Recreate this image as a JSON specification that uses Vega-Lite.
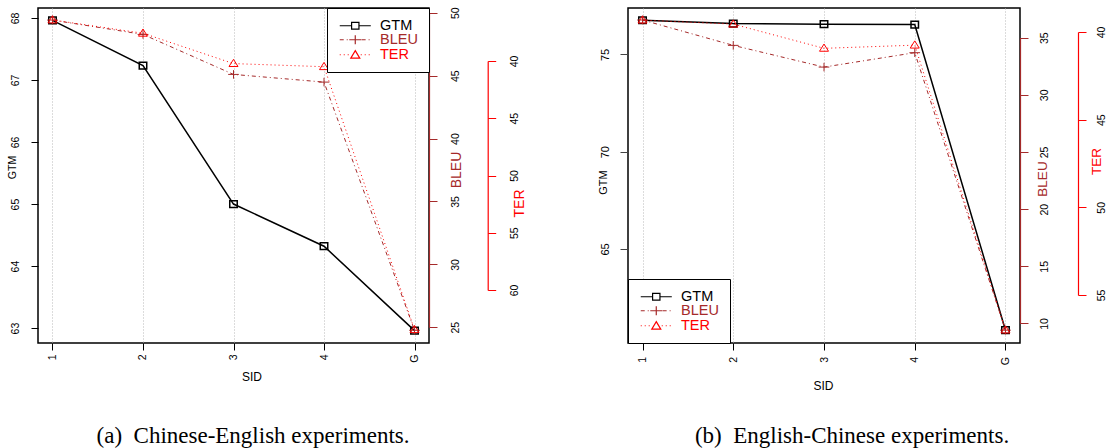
{
  "$schema": "https://vega.github.io/schema/vega-lite/v6.json",
  "padding": {"left": 6, "top": 6, "right": 0, "bottom": 0},
  "background": "white",
  "spacing": 69,
  "config": {
    "view": {"stroke": "black", "strokeWidth": 1.5},
    "font": "Liberation Sans",
    "axis": {
      "labelFont": "Liberation Sans",
      "titleFont": "Liberation Sans",
      "titleFontWeight": "normal",
      "labelColor": "black",
      "titleColor": "black",
      "labelFlush": false,
      "labelOverlap": false,
      "tickWidth": 1,
      "domainWidth": 1.2,
      "grid": false
    },
    "legend": {
      "orient": "top-right", "offset": 0, "padding": 10.5, "strokeColor": "black", "fillColor": "white",
      "symbolSize": 100, "symbolStrokeWidth": 1.2, "symbolOpacity": 1, "labelFontSize": 14.5, "labelFont": "Liberation Sans",
      "labelOffset": 28, "rowPadding": -6.5, "cornerRadius": 0
    }
  },
  "datasets": {
    "zhen": [
      {"SID": "1", "GTM": 67.96, "BLEU": 49.42, "TER": 36.42},
      {"SID": "2", "GTM": 67.23, "BLEU": 48.28, "TER": 37.58},
      {"SID": "3", "GTM": 65.0, "BLEU": 45.1, "TER": 40.23},
      {"SID": "4", "GTM": 64.32, "BLEU": 44.49, "TER": 40.5},
      {"SID": "G", "GTM": 62.96, "BLEU": 24.76, "TER": 63.46}
    ],
    "enzh": [
      {"SID": "1", "GTM": 76.76, "BLEU": 36.55, "TER": 39.32},
      {"SID": "2", "GTM": 76.59, "BLEU": 34.33, "TER": 39.55},
      {"SID": "3", "GTM": 76.56, "BLEU": 32.43, "TER": 40.93},
      {"SID": "4", "GTM": 76.54, "BLEU": 33.69, "TER": 40.75},
      {"SID": "G", "GTM": 60.82, "BLEU": 9.41, "TER": 57.0}
    ],
    "series": [
      {"series": "GTM"},
      {"series": "BLEU"},
      {"series": "TER"}
    ]
  },
  "resolve": {
    "scale": {"color": "independent", "shape": "independent"},
    "legend": {"color": "independent", "shape": "independent"}
  },
  "hconcat": [
    {
      "width": 391,
      "height": 335,
      "data": {"name": "zhen"},
      "title": {"text": "(a)\u00a0 Chinese-English experiments.", "orient": "bottom", "anchor": "middle", "frame": "group", "font": "Liberation Serif", "fontSize": 23, "fontWeight": "normal", "color": "black", "offset": 43, "dx": 19.5},
      "encoding": {
        "x": {
          "field": "SID", "type": "nominal",
          "scale": {"type": "point", "domain": ["1", "2", "3", "4", "G"], "padding": 0.16},
          "axis": {"orient": "bottom", "title": "SID", "titleFontSize": 12, "titleAngle": 0, "titleX": 213.5, "titleY": 33, "titleBaseline": "middle", "titleAlign": "center", "labelAngle": 270, "labelAlign": "right", "labelBaseline": "middle", "labelPadding": 4, "labelFontSize": 10.5, "tickSize": 7, "tickColor": "black", "domain": false, "grid": true, "gridDash": [1, 2], "gridColor": "#b8b8b8", "gridWidth": 1}
        }
      },
      "layer": [
        {
          "encoding": {
            "y": {"field": "GTM", "type": "quantitative", "scale": {"domain": [62.76, 68.16], "zero": false, "nice": false},
              "axis": {"orient": "left", "values": [63, 64, 65, 66, 67, 68], "title": "GTM", "titleFontSize": 10.5, "titleAngle": 270, "titleX": -25.5, "titleY": 159, "titleBaseline": "middle", "titleAlign": "center", "labelAngle": 270, "labelAlign": "center", "labelBaseline": "alphabetic", "labelPadding": 12.7, "labelFontSize": 10.5, "tickSize": 7, "tickColor": "black", "domain": false}}
          },
          "layer": [
            {"mark": {"type": "line", "color": "black", "strokeWidth": 1.5}},
            {"mark": {"type": "point", "shape": "M-1,-0.9H1V0.9H-1Z", "size": 56, "filled": false, "color": "black", "strokeWidth": 1.5, "opacity": 1}}
          ]
        },
        {
          "encoding": {
            "y": {"field": "BLEU", "type": "quantitative", "scale": {"domain": [23.75, 50.38], "zero": false, "nice": false},
              "axis": {"orient": "right", "values": [25, 30, 35, 40, 45, 50], "title": "BLEU", "titleFontSize": 14, "titleColor": "#A52A2A", "titleAngle": 270, "titleX": 27.8, "titleY": 161.5, "titleBaseline": "middle", "titleAlign": "center", "labelAngle": 270, "labelAlign": "center", "labelBaseline": "top", "labelPadding": 13.3, "labelFontSize": 10.5, "tickSize": 8, "tickColor": "#A52A2A", "domainColor": "#A52A2A", "domainDash": [0, 16, 314.3, 1000]}}
          },
          "layer": [
            {"mark": {"type": "line", "color": "#A52A2A", "strokeWidth": 1, "strokeDash": [4, 3, 1, 3]}},
            {"mark": {"type": "point", "shape": "M-1,0H1M0,-0.8V0.8", "size": 114, "filled": false, "color": "#A52A2A", "strokeWidth": 1, "opacity": 1}}
          ]
        },
        {
          "encoding": {
            "y": {"field": "TER", "type": "quantitative", "scale": {"domain": [35.375, 64.625], "reverse": true, "zero": false, "nice": false},
              "axis": {"orient": "right", "offset": 58.7, "values": [40, 45, 50, 55, 60], "title": "TER", "titleFontSize": 14, "titleColor": "#FF0000", "titleAngle": 270, "titleX": 31.3, "titleY": 195, "titleBaseline": "middle", "titleAlign": "center", "labelAngle": 270, "labelAlign": "center", "labelBaseline": "top", "labelPadding": 13.3, "labelFontSize": 10.5, "tickSize": 8, "tickColor": "#FF0000", "domainColor": "#FF0000", "domainDash": [0, 53, 229, 1000]}}
          },
          "layer": [
            {"mark": {"type": "line", "color": "#FF0000", "strokeWidth": 1, "strokeDash": [1, 3]}},
            {"mark": {"type": "point", "shape": "M0,-0.95L1,0.65L-1,0.65Z", "size": 81, "filled": false, "color": "#FF0000", "strokeWidth": 1, "opacity": 1}}
          ]
        },
        {
          "data": {"name": "series"},
          "mark": {"type": "point", "filled": false, "opacity": 0},
          "encoding": {
            "shape": {"field": "series", "type": "nominal",
              "scale": {"domain": ["GTM", "BLEU", "TER"], "range": ["M-1,0H1.37M2.84,0H5.21M1.37,-0.675H2.84V0.675H1.37Z", "M-1,0H-0.205M0.395,0H0.59M1.19,0H1.985M2.585,0H2.78M3.38,0H4.175M4.775,0H4.97M0.905,0H3.305M2.105,-0.9V0.9", "M-1,0H-0.805M-0.205,0H-0.01M0.59,0H0.785M3.2,0H3.395M3.995,0H4.19M4.79,0H4.985M2.105,-0.825L3.005,0.675L1.205,0.675Z"]},
              "legend": {"orient": "top-right", "title": null, "labelColor": {"expr": "datum.label === 'GTM' ? 'black' : datum.label === 'BLEU' ? '#A52A2A' : '#FF0000'"}}},
            "color": {"field": "series", "type": "nominal",
              "scale": {"domain": ["GTM", "BLEU", "TER"], "range": ["black", "#A52A2A", "#FF0000"]},
              "legend": {"orient": "top-right", "title": null, "labelColor": {"expr": "datum.label === 'GTM' ? 'black' : datum.label === 'BLEU' ? '#A52A2A' : '#FF0000'"}}}
          }
        }
      ],
      "resolve": {"scale": {"y": "independent"}}
    },
    {
      "width": 392,
      "height": 335,
      "data": {"name": "enzh"},
      "title": {"text": "(b)\u00a0 English-Chinese experiments.", "orient": "bottom", "anchor": "middle", "frame": "group", "font": "Liberation Serif", "fontSize": 23, "fontWeight": "normal", "color": "black", "offset": 34, "dx": 28},
      "encoding": {
        "x": {
          "field": "SID", "type": "nominal",
          "scale": {"type": "point", "domain": ["1", "2", "3", "4", "G"], "padding": 0.16},
          "axis": {"orient": "bottom", "title": "SID", "titleFontSize": 12, "titleAngle": 0, "titleX": 195, "titleY": 42, "titleBaseline": "middle", "titleAlign": "center", "labelAngle": 270, "labelAlign": "right", "labelBaseline": "middle", "labelPadding": 6.5, "labelFontSize": 10.5, "tickSize": 7, "tickColor": "black", "domain": false, "grid": true, "gridDash": [1, 2], "gridColor": "#b8b8b8", "gridWidth": 1}
        }
      },
      "layer": [
        {
          "encoding": {
            "y": {"field": "GTM", "type": "quantitative", "scale": {"domain": [60.16, 77.39], "zero": false, "nice": false},
              "axis": {"orient": "left", "values": [65, 70, 75], "title": "GTM", "titleFontSize": 11, "titleAngle": 270, "titleX": -25, "titleY": 174, "titleBaseline": "middle", "titleAlign": "center", "labelAngle": 270, "labelAlign": "center", "labelBaseline": "alphabetic", "labelPadding": 12, "labelFontSize": 11, "tickSize": 8, "tickColor": "#444444", "domain": false}}
          },
          "layer": [
            {"mark": {"type": "line", "color": "black", "strokeWidth": 1.5}},
            {"mark": {"type": "point", "shape": "M-1,-0.9H1V0.9H-1Z", "size": 56, "filled": false, "color": "black", "strokeWidth": 1.5, "opacity": 1}}
          ]
        },
        {
          "encoding": {
            "y": {"field": "BLEU", "type": "quantitative", "scale": {"domain": [8.29, 37.6], "zero": false, "nice": false},
              "axis": {"orient": "right", "values": [10, 15, 20, 25, 30, 35], "title": "BLEU", "titleFontSize": 13.5, "titleColor": "#A52A2A", "titleAngle": 270, "titleX": 22.5, "titleY": 170.5, "titleBaseline": "middle", "titleAlign": "center", "labelAngle": 270, "labelAlign": "center", "labelBaseline": "top", "labelPadding": 11, "labelFontSize": 10.5, "tickSize": 8, "tickColor": "#A52A2A", "domainColor": "#A52A2A", "domainDash": [0, 19.7, 285.6, 1000]}}
          },
          "layer": [
            {"mark": {"type": "line", "color": "#A52A2A", "strokeWidth": 1, "strokeDash": [4, 3, 1, 3]}},
            {"mark": {"type": "point", "shape": "M-1,0H1M0,-0.8V0.8", "size": 114, "filled": false, "color": "#A52A2A", "strokeWidth": 1, "opacity": 1}}
          ]
        },
        {
          "encoding": {
            "y": {"field": "TER", "type": "quantitative", "scale": {"domain": [38.63, 57.74], "reverse": true, "zero": false, "nice": false},
              "axis": {"orient": "right", "offset": 58, "values": [40, 45, 50, 55], "title": "TER", "titleFontSize": 13.5, "titleColor": "#FF0000", "titleAngle": 270, "titleX": 18, "titleY": 153, "titleBaseline": "middle", "titleAlign": "center", "labelAngle": 270, "labelAlign": "center", "labelBaseline": "top", "labelPadding": 10, "labelFontSize": 10.5, "tickSize": 8, "tickColor": "#FF0000", "domainColor": "#FF0000", "domainDash": [0, 24, 263, 1000]}}
          },
          "layer": [
            {"mark": {"type": "line", "color": "#FF0000", "strokeWidth": 1, "strokeDash": [1, 3]}},
            {"mark": {"type": "point", "shape": "M0,-0.95L1,0.65L-1,0.65Z", "size": 81, "filled": false, "color": "#FF0000", "strokeWidth": 1, "opacity": 1}}
          ]
        },
        {
          "data": {"name": "series"},
          "mark": {"type": "point", "filled": false, "opacity": 0},
          "encoding": {
            "shape": {"field": "series", "type": "nominal",
              "scale": {"domain": ["GTM", "BLEU", "TER"], "range": ["M-1,0H1.37M2.84,0H5.21M1.37,-0.675H2.84V0.675H1.37Z", "M-1,0H-0.205M0.395,0H0.59M1.19,0H1.985M2.585,0H2.78M3.38,0H4.175M4.775,0H4.97M0.905,0H3.305M2.105,-0.9V0.9", "M-1,0H-0.805M-0.205,0H-0.01M0.59,0H0.785M3.2,0H3.395M3.995,0H4.19M4.79,0H4.985M2.105,-0.825L3.005,0.675L1.205,0.675Z"]},
              "legend": {"orient": "bottom-left", "title": null, "labelColor": {"expr": "datum.label === 'GTM' ? 'black' : datum.label === 'BLEU' ? '#A52A2A' : '#FF0000'"}}},
            "color": {"field": "series", "type": "nominal",
              "scale": {"domain": ["GTM", "BLEU", "TER"], "range": ["black", "#A52A2A", "#FF0000"]},
              "legend": {"orient": "bottom-left", "title": null, "labelColor": {"expr": "datum.label === 'GTM' ? 'black' : datum.label === 'BLEU' ? '#A52A2A' : '#FF0000'"}}}
          }
        }
      ],
      "resolve": {"scale": {"y": "independent"}}
    }
  ]
}
